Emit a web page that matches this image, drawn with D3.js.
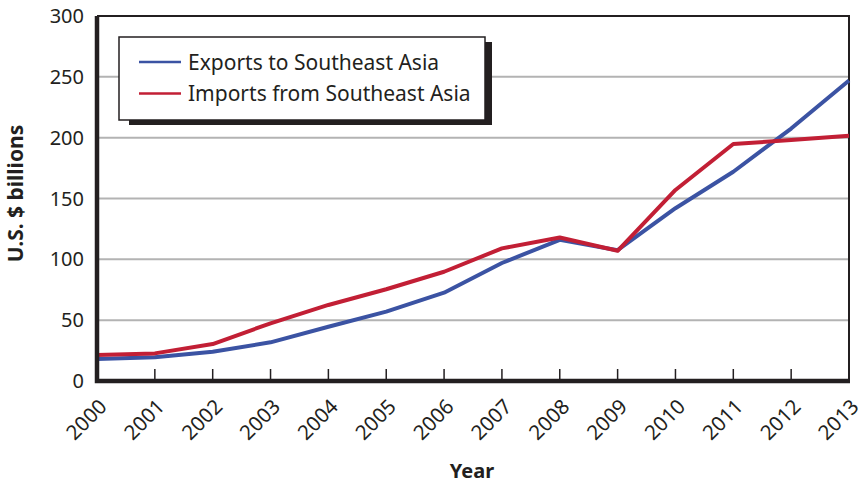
<!DOCTYPE html>
<html>
<head>
<meta charset="utf-8">
<script src="https://cdn.jsdelivr.net/npm/d3@7"></script>
<style>
  html, body { margin: 0; padding: 0; background: #fff; }
  svg { display: block; font-family: "Noto Sans", "Open Sans", sans-serif; }
</style>
</head>
<body>
<svg id="chart" width="864" height="484"></svg>
<script>
// U.S. trade with Southeast Asia, 2000–2013 (U.S. $ billions)
const years = [2000, 2001, 2002, 2003, 2004, 2005, 2006, 2007, 2008, 2009, 2010, 2011, 2012, 2013];
const exportsValues = [18, 19.5, 24, 31.8, 44.6, 57, 72.6, 97, 116, 107.5, 142, 172, 207.5, 247];
const importsValues = [21.4, 22.7, 30.4, 47.4, 62.5, 75.4, 89.8, 109, 118, 107, 157, 194.8, 198, 201.6];
const yTicks = [0, 50, 100, 150, 200, 250, 300];
const seriesNames = ["Exports to Southeast Asia", "Imports from Southeast Asia"];
const seriesColors = ["#3b53a3", "#c21f35"];

const svg = d3.select("#chart");
const margin = { left: 97, right: 15, top: 16, bottom: 103 };
const W = 864, H = 484;

const x = d3.scaleLinear().domain([2000, 2013]).range([margin.left, W - margin.right]);
const y = d3.scaleLinear().domain([0, 300]).range([H - margin.bottom, margin.top]);

// horizontal gridlines
svg.append("g")
  .selectAll("line")
  .data(yTicks.filter(t => t > 0 && t < 300))
  .join("line")
  .attr("x1", x(2000)).attr("x2", x(2013))
  .attr("y1", d => y(d)).attr("y2", d => y(d))
  .attr("stroke", "#b3b3b3").attr("stroke-width", 2);

// thin top and right frame
svg.append("path")
  .attr("d", `M${x(2000)},${y(300)}H${x(2013)}V${y(0)}`)
  .attr("fill", "none").attr("stroke", "#231f20").attr("stroke-width", 2);

// year ticks pointing up from the baseline
svg.append("g")
  .selectAll("line")
  .data(years.slice(1, -1))
  .join("line")
  .attr("x1", d => x(d)).attr("x2", d => x(d))
  .attr("y1", y(0)).attr("y2", y(0) - 12)
  .attr("stroke", "#231f20").attr("stroke-width", 1.5);

// data lines
const line = d3.line().x((d, i) => x(years[i])).y(d => y(d));
[exportsValues, importsValues].forEach((vals, i) => {
  svg.append("path")
    .datum(vals)
    .attr("d", line)
    .attr("fill", "none")
    .attr("stroke", seriesColors[i])
    .attr("stroke-width", 4)
    .attr("stroke-linejoin", "round");
});

// thick left and bottom axis lines
svg.append("path")
  .attr("d", `M${x(2000)},${y(300)}V${y(0)}H${x(2013) + 1}`)
  .attr("fill", "none").attr("stroke", "#231f20").attr("stroke-width", 4.5);

// y tick labels
svg.append("g")
  .selectAll("text")
  .data(yTicks)
  .join("text")
  .attr("x", 84)
  .attr("y", d => y(d) + 7)
  .attr("text-anchor", "end")
  .attr("font-size", 20)
  .attr("fill", "#231f20")
  .text(d => d);

// x tick labels, rotated
svg.append("g")
  .selectAll("text")
  .data(years)
  .join("text")
  .attr("transform", d => `translate(${x(d) + 11},${y(0) + 27}) rotate(-45)`)
  .attr("text-anchor", "end")
  .attr("font-size", 20.5)
  .attr("fill", "#231f20")
  .text(d => d);

// axis titles
svg.append("text")
  .attr("transform", `translate(23,${(y(0) + y(300)) / 2 - 5}) rotate(-90)`)
  .attr("text-anchor", "middle")
  .attr("font-size", 21).attr("font-weight", "bold")
  .attr("fill", "#231f20")
  .text("U.S. $ billions");

svg.append("text")
  .attr("x", 472).attr("y", 478)
  .attr("text-anchor", "middle")
  .attr("font-size", 20).attr("font-weight", "bold")
  .attr("fill", "#231f20")
  .text("Year");

// legend with drop shadow
const lg = svg.append("g");
lg.append("rect")
  .attr("x", 129).attr("y", 42).attr("width", 363).attr("height", 83)
  .attr("fill", "#231f20");
lg.append("rect")
  .attr("x", 119).attr("y", 37).attr("width", 366).attr("height", 83)
  .attr("fill", "#fff").attr("stroke", "#231f20").attr("stroke-width", 1.5);
seriesNames.forEach((name, i) => {
  const cy = 62 + i * 31.5;
  lg.append("line")
    .attr("x1", 139).attr("x2", 181).attr("y1", cy).attr("y2", cy)
    .attr("stroke", seriesColors[i]).attr("stroke-width", 2.5);
  lg.append("text")
    .attr("x", 188).attr("y", cy + 7.5)
    .attr("font-size", 21)
    .attr("fill", "#231f20")
    .text(name);
});
</script>
</body>
</html>
